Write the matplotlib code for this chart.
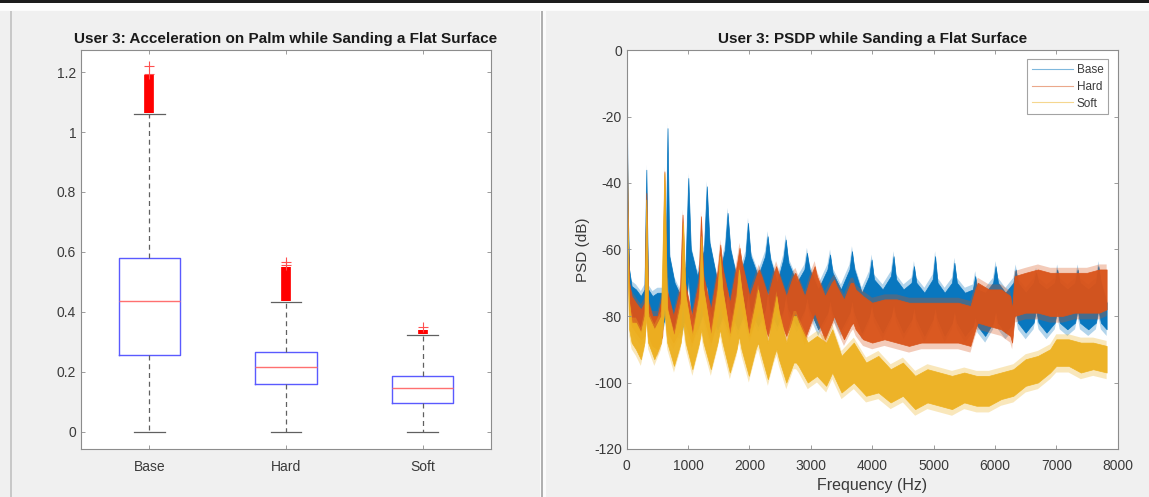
import matplotlib
matplotlib.use("Agg")
import matplotlib.pyplot as plt
from matplotlib.patches import Rectangle
from matplotlib.lines import Line2D

plt.rcParams['font.family'] = ['Liberation Sans', 'DejaVu Sans']
plt.rcParams['axes.unicode_minus'] = False

# ---------------- data: boxplot (left panel) ----------------
box_labels = ["Base", "Hard", "Soft"]
box_q1 = [0.255, 0.158, 0.095]
box_med = [0.436, 0.217, 0.145]
box_q3 = [0.578, 0.267, 0.187]
box_whislo = [0.0, 0.0, 0.0]
box_whishi = [1.062, 0.432, 0.324]
# dense outlier ranges (overlapping '+' markers look like a solid bar)
out_lo = [1.065, 0.435, 0.326]
out_hi = [1.19, 0.548, 0.340]
# sparse individual outliers
out_sparse = [[1.195, 1.22], [0.555, 0.565], [0.35]]

# ---------------- data: PSD (right panel), envelopes -------
base_f = [0, 15, 40, 80, 150, 230, 290, 320, 350, 420, 500, 580, 635, 665, 695, 780, 880, 960, 1004, 1045,
          1150, 1260, 1305, 1350, 1480, 1600, 1644, 1690, 1810, 1935, 1976, 2020, 2140, 2255, 2296, 2340,
          2450, 2550, 2591, 2635, 2770, 2895, 2936, 2980, 3120, 3270, 3313, 3355, 3490, 3630, 3670, 3710,
          3830, 3950, 3990, 4030, 4170, 4305, 4348, 4390, 4510, 4640, 4680, 4720, 4850, 4985, 5025, 5065,
          5180, 5300, 5339, 5380, 5510, 5640, 5678, 5715, 5840, 5970, 6010, 6050, 6170, 6300, 6337, 6375,
          6500, 6630, 6669, 6710, 6840, 6975, 7014, 7055, 7180, 7305, 7346, 7385, 7520, 7645, 7685, 7725, 7820]
base_hi = [-7, -45, -66, -71, -72, -74, -72, -36, -72, -74, -73, -73, -66, -23.5, -62, -70, -74, -65, -38.5, -60,
           -68, -60, -41, -58, -70, -60, -49, -60, -70, -62, -52, -62, -68, -62, -56, -63,
           -70, -63, -57, -64, -70, -66, -61, -66, -72, -66, -61.5, -67, -72, -66, -60.5, -66,
           -73, -68, -63, -69, -72, -68, -62, -69, -72, -70, -65, -70, -73, -69, -62, -70,
           -73, -70, -64, -70, -73, -72, -68, -72, -73, -70, -65, -70, -73, -70, -66, -70,
           -73, -70, -67, -70, -72, -70, -66, -70, -72, -70, -66, -70, -72, -70, -65, -70, -76]
base_lo = [-12, -55, -72, -78, -83, -85, -82, -75, -82, -84, -83, -83, -80, -68, -80, -84, -85, -80, -68, -78,
           -84, -78, -70, -78, -84, -78, -72, -78, -84, -78, -72, -78, -83, -78, -72, -78,
           -83, -78, -73, -78, -83, -78, -74, -78, -84, -79, -75, -79, -84, -79, -75, -79,
           -85, -80, -76, -80, -85, -80, -76, -80, -85, -81, -77, -81, -86, -81, -77, -81,
           -86, -82, -78, -82, -86, -83, -80, -83, -86, -82, -78, -82, -85, -82, -78, -82,
           -85, -82, -78, -82, -85, -82, -78, -82, -84, -82, -78, -82, -84, -82, -78, -82, -84]

hard_f = [0, 15, 40, 80, 150, 230, 290, 320, 350, 420, 500, 580, 615, 650, 760, 870, 910, 950, 1060, 1170,
          1211, 1250, 1370, 1485, 1525, 1565, 1680, 1800, 1838, 1875, 2000, 2110, 2152, 2195, 2300, 2400,
          2434, 2470, 2600, 2710, 2748, 2790, 2900, 3020, 3062, 3100, 3230, 3340, 3380, 3420, 3540, 3650,
          3689, 3730, 3850, 4000, 4200, 4400, 4600, 4800, 5000, 5200, 5400, 5600, 5680, 5720, 5900, 6100,
          6250, 6280, 6320, 6500, 6700, 6900, 7100, 7300, 7500, 7700, 7820]
hard_hi = [-13, -50, -70, -74, -76, -78, -76, -43, -76, -80, -80, -74, -36.5, -72, -80, -72, -49.5, -70, -80, -70,
           -50, -68, -78, -66, -58.5, -66, -76, -64, -59.5, -64, -74, -68, -66, -68, -74, -67,
           -65, -67, -74, -68, -67, -69, -74, -67, -65, -68, -74, -70, -69, -71, -75, -70,
           -70, -72, -74, -76, -75, -75, -76, -76, -76, -76, -76, -77, -72, -70, -72, -72,
           -74, -78, -68, -67, -66, -67, -67, -67, -67, -66, -66]
hard_lo = [-18, -60, -78, -83, -85, -87, -86, -78, -86, -89, -90, -86, -70, -84, -88, -84, -75, -82, -88, -82,
           -75, -80, -88, -80, -76, -80, -86, -78, -75, -78, -86, -80, -78, -80, -86, -80,
           -78, -80, -86, -81, -79, -81, -87, -81, -79, -81, -87, -82, -80, -82, -87, -83,
           -82, -84, -87, -88, -87, -88, -89, -88, -88, -88, -88, -89, -84, -82, -83, -84,
           -86, -88, -80, -79, -79, -80, -80, -79, -79, -79, -78]

soft_f = [0, 15, 40, 80, 150, 230, 290, 320, 350, 450, 560, 615, 660, 770, 880, 920, 960, 1070, 1180, 1215,
          1250, 1370, 1480, 1520, 1560, 1680, 1790, 1830, 1870, 1990, 2100, 2140, 2180, 2300, 2400, 2440,
          2480, 2600, 2720, 2760, 2800, 2950, 3100, 3250, 3350, 3500, 3700, 3900, 4100, 4300, 4500, 4700,
          4900, 5100, 5300, 5500, 5700, 5900, 6100, 6300, 6500, 6700, 6900, 7000, 7200, 7400, 7600, 7820]
soft_hi = [-13, -55, -76, -82, -82, -85, -80, -45, -80, -84, -80, -37, -78, -86, -76, -52, -74, -86, -74, -56,
           -72, -86, -72, -62, -72, -86, -74, -66, -72, -86, -76, -72, -76, -88, -78, -74,
           -79, -88, -80, -80, -82, -88, -86, -88, -84, -92, -88, -94, -92, -96, -94, -98,
           -96, -97, -98, -97, -98, -98, -97, -96, -93, -92, -90, -87, -87, -88, -88, -89]
soft_lo = [-18, -65, -84, -88, -90, -93, -88, -80, -88, -93, -88, -78, -88, -95, -88, -82, -88, -96, -88, -84,
           -88, -96, -88, -84, -88, -97, -90, -86, -90, -98, -90, -88, -91, -99, -92, -90,
           -93, -100, -94, -94, -95, -100, -98, -101, -97, -103, -100, -104, -103, -106, -104, -108,
           -106, -107, -108, -106, -107, -107, -105, -104, -101, -100, -97, -95, -95, -97, -96, -97]

psd_labels = ["Base", "Hard", "Soft"]
psd_colors = ["#0072BD", "#D95319", "#EDB120"]

# ---------------- figure ----------------
W, H = 1149, 497
fig = plt.figure(figsize=(W / 100, H / 100), dpi=100, facecolor="#f0f0f0")

def px_rect(x0, y0, x1, y1, **kw):
    fig.patches.append(Rectangle((x0 / W, 1 - y1 / H), (x1 - x0) / W, (y1 - y0) / H,
                                 transform=fig.transFigure, **kw))

# screenshot framing
px_rect(0, 0, W, 3, facecolor="#1a1a1a", edgecolor="none")
px_rect(0, 3, W, 11, facecolor="#fbfbfb", edgecolor="none")
px_rect(540, 11, 546, H, facecolor="#fbfbfb", edgecolor="none")
px_rect(541, 11, 543, H, facecolor="#b0b0b0", edgecolor="none")
px_rect(10, 11, 12, H, facecolor="#c8c8c8", edgecolor="none")

axis_gray = "#8c8c8c"
text_gray = "#3a3a3a"

def style_axes(ax):
    for s in ax.spines.values():
        s.set_color(axis_gray)
        s.set_linewidth(0.8)
    ax.tick_params(direction="in", length=3, width=0.6, color=axis_gray, labelcolor=text_gray,
                   labelsize=10, top=True, right=True)
    ax.set_facecolor("white")

# ---------------- left: boxplot ----------------
ax1 = fig.add_axes([81 / W, 1 - 449 / H, 410 / W, 399 / H])
style_axes(ax1)
positions = [1, 2, 3]
stats = []
for i in range(3):
    stats.append(dict(med=box_med[i], q1=box_q1[i], q3=box_q3[i],
                      whislo=box_whislo[i], whishi=box_whishi[i], fliers=[], label=box_labels[i]))
ax1.bxp(stats, positions=positions, widths=0.45, showfliers=False, capwidths=0.225,
        boxprops=dict(color="#5a5aff", linewidth=1.0),
        medianprops=dict(color="#ff7070", linewidth=1.0),
        whiskerprops=dict(color="#606060", linewidth=0.9, linestyle=(0, (4, 3))),
        capprops=dict(color="#606060", linewidth=0.9))
ax1.vlines(positions, out_lo, out_hi, color="red", linewidth=7, zorder=3)
for p, vals in zip(positions, out_sparse):
    ax1.plot([p] * len(vals), vals, linestyle="none", marker="+", color="#ff5050",
             markersize=7, markeredgewidth=0.8, zorder=3)
ax1.set_xlim(0.5, 3.5)
ax1.set_ylim(-0.058, 1.274)
ax1.set_yticks([0, 0.2, 0.4, 0.6, 0.8, 1.0, 1.2])
ax1.set_yticklabels(["0", "0.2", "0.4", "0.6", "0.8", "1", "1.2"])
ax1.set_xticks(positions)
ax1.set_xticklabels(box_labels)
ax1.tick_params(axis="x", pad=8)
ax1.set_title("User 3: Acceleration on Palm while Sanding a Flat Surface",
              fontsize=11, fontweight="bold", color="#1a1a1a", pad=5)

# ---------------- right: PSD ----------------
ax2 = fig.add_axes([626.7 / W, 1 - 449 / H, 491 / W, 399 / H])
style_axes(ax2)
series = [(base_f, base_lo, base_hi), (hard_f, hard_lo, hard_hi), (soft_f, soft_lo, soft_hi)]
for (f, lo, hi), c, lab in zip(series, psd_colors, psd_labels):
    halo_lo = [v - 2.0 for v in lo]
    halo_hi = [v + 1.5 for v in hi]
    ax2.fill_between(f, halo_lo, halo_hi, facecolor=c, edgecolor="none", alpha=0.3)
    ax2.fill_between(f, lo, hi, facecolor=c, edgecolor=c, linewidth=0.5, alpha=0.95)
ax2.set_xlim(0, 8000)
ax2.set_ylim(-120, 0)
ax2.set_xticks(range(0, 8001, 1000))
ax2.set_yticks(range(-120, 1, 20))
ax2.tick_params(axis="x", pad=7)
ax2.set_xlabel("Frequency (Hz)", fontsize=11.5, color=text_gray, labelpad=4)
ax2.set_ylabel("PSD (dB)", fontsize=11, color=text_gray, labelpad=3)
ax2.set_title("User 3: PSDP while Sanding a Flat Surface",
              fontsize=11, fontweight="bold", color="#1a1a1a", pad=5)
handles = [Line2D([], [], color=c, linewidth=0.8, alpha=0.5) for c in psd_colors]
leg = ax2.legend(handles, psd_labels, loc="upper right", fontsize=8.5, frameon=True, fancybox=False,
                 edgecolor="#8c8c8c", handlelength=3.5, handletextpad=0.3, borderpad=0.4,
                 labelspacing=0.4, borderaxespad=0.8)
leg.get_frame().set_linewidth(0.8)
for t in leg.get_texts():
    t.set_color(text_gray)

fig.savefig("out.png", dpi=100, facecolor=fig.get_facecolor())
